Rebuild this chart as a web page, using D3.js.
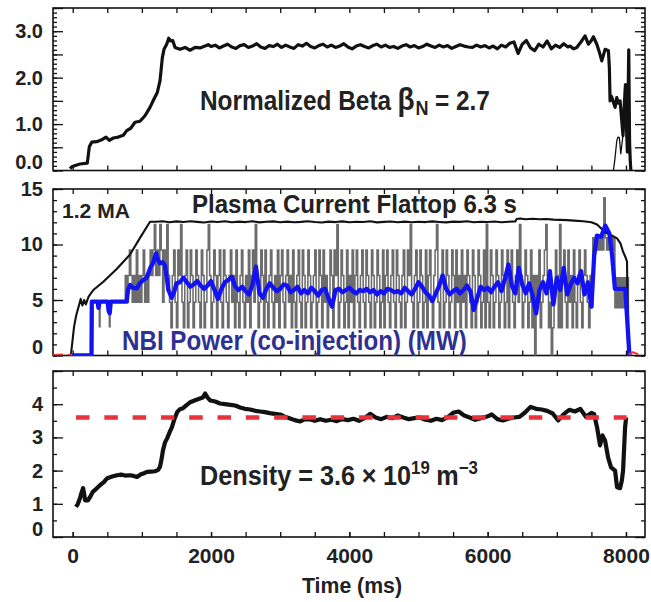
<!DOCTYPE html>
<html>
<head>
<meta charset="utf-8">
<script src="https://cdn.jsdelivr.net/npm/d3@7"></script>
<style>
body { margin: 0; background: #fff; }
text { font-family: "Liberation Sans", Arial, Helvetica, sans-serif; font-weight: bold; }
</style>
</head>
<body>
<div id="chart"></div>
<script>
// ---- tick labels ----
var timeTicks = [0, 2000, 4000, 6000, 8000];
var betaTicks = [0, 1, 2, 3];
var powerTicks = [0, 5, 10, 15];
var densityTicks = [0, 1, 2, 3, 4];

// ---- normalized beta (thick trace) [t ms, value] ----
var betaRise = [[-39,0.04],[-14,0.08],[58,0.12],[106,0.14],[211,0.16],[240,0.51],[275,0.61],[347,0.62],
  [419,0.66],[481,0.72],[529,0.65],[587,0.7],[659,0.72],[732,0.76],[781,0.86],[839,0.91],[901,1.04],
  [973,1.06],[1045,1.18],[1118,1.36],[1175,1.54],[1223,1.68],[1262,1.93],[1296,2.43],[1320,2.61],
  [1359,2.72],[1388,2.85],[1417,2.79],[1446,2.8],[1480,2.65],[1552,2.61],[1624,2.65],[1697,2.59],
  [1769,2.65],[1841,2.64],[1913,2.68],[1960,2.71]];
// flattop, one value every 60 ms from 2000 ms
var betaFlatStart = 2000, betaFlatStep = 60;
var betaFlat = [2.67,2.70,2.64,2.68,2.72,2.66,2.63,2.69,2.71,2.65,
  2.68,2.73,2.66,2.63,2.69,2.67,2.72,2.65,2.70,2.66,
  2.63,2.71,2.68,2.74,2.67,2.64,2.69,2.72,2.66,2.70,
  2.65,2.68,2.73,2.66,2.62,2.68,2.71,2.67,2.64,2.69,
  2.72,2.66,2.70,2.65,2.67,2.63,2.68,2.71,2.66,2.69,
  2.64,2.67,2.72,2.68,2.65,2.70,2.66,2.69,2.63,2.67,
  2.71,2.68,2.66,2.65,2.70,2.66,2.69,2.64,2.68,2.62,
  2.70,2.66,2.74,2.77,2.52,2.72,2.80,2.64,2.58,2.72,
  2.66,2.79,2.62,2.70,2.65,2.73,2.66];
var betaTail = [[7191,2.68],[7240,2.62],[7288,2.65],[7340,2.75],[7408,2.9],[7456,2.72],[7500,2.8],
  [7529,2.88],[7578,2.72],[7615,2.55],[7650,2.36],[7698,2.61],[7746,2.58],[7760,2.2],[7770,1.5],
  [7790,1.6],[7818,1.47],[7842,1.36],[7867,1.57],[7890,1.45],[7915,1.5],[7939,1.07],[7957,0.75],
  [7975,1.4],[7992,1.85],[8008,0.9],[8020,0.4],[8040,2.6],[8052,0.6],[8062,0.2],[8075,-0.1]];
var betaThin = [[7810,-0.1],[7840,0.25],[7867,0.64],[7885,0.72],[7904,0.71],[7925,0.36],[7953,0.71],[7972,1.07]];

// ---- plasma current (x10 MA scale) ----
var currentRamp = [[-25,0.1],[0,1.5],[20,2.6],[50,3.6],[90,4.5],[115,5.1],[140,4.5],[165,5.0],[190,4.6],
  [230,5.3],[298,5.9],[443,6.65],[636,7.8],[829,9.1],[973,10.6],[1118,12.05]];
var currentFlatStart = 1200, currentFlatStep = 100;
var currentFlat = [12.05,12.1,12.0,12.08,12.02,12.1,12.04,11.98,12.07,12.03,
  12.1,12.0,12.06,12.02,12.09,11.99,12.05,12.08,12.01,12.06,
  12.0,12.04,12.1,12.03,11.98,12.06,12.02,12.08,12.0,12.05,
  12.03,12.09,11.99,12.04,12.07,12.01,12.06,12.0,12.05,12.02,
  12.08,12.03,11.99,12.06,12.04,12.1,12.01,12.05,12.02,12.07,
  12.0,12.05,12.08];
var currentTail = [[6420,12.3],[6470,12.35],[6550,12.28],[6650,12.32],[6750,12.27],[6850,12.3],[6950,12.24],
  [7050,12.22],[7150,12.2],[7250,12.15],[7380,12.1],[7500,12.0],[7582,11.8],[7650,11.4],[7726,11.0],
  [7800,10.8],[7871,10.55],[7920,10.1],[7958,9.35],[7990,8.9],[8015,8.45],[8025,3],[8032,0.1],[8045,0]];

// ---- NBI power, raw (grey, stepped, one value every 20 ms from 760 ms) ----
var nbiRawStart = [[-30,0],[272,0],[276,4.8],[385,2.6],[395,4.8],[530,2.6],[540,4.8]];
var nbiRawStep0 = 760, nbiRawStep = 20;
var nbiRaw = [
  7.2,4.8,7.2,9.5,7.2,4.8,7.2,4.8,9.5,4.8,7.2,4.8,7.2,9.5,4.8,7.2,4.8,7.2,9.5,7.2,
  9.5,11.8,7.2,9.5,7.2,11.8,9.5,4.8,9.5,7.2,11.8,7.2,
  4.8,2.5,7.2,9.5,4.8,2.5,9.5,7.2,11.8,4.8,2.5,7.2,9.5,2.5,4.8,9.5,7.2,2.5,4.8,9.5,7.2,4.8,2.5,9.5,7.2,2.5,4.8,9.5,11.8,7.2,
  2.5,4.8,9.5,7.2,2.5,7.2,9.5,4.8,2.5,9.5,7.2,4.8,2.5,7.2,9.5,4.8,7.2,2.5,9.5,4.8,2.5,7.2,9.5,4.8,2.5,7.2,4.8,9.5,2.5,7.2,
  9.5,4.8,11.8,7.2,2.5,4.8,9.5,7.2,2.5,9.5,4.8,2.5,7.2,9.5,4.8,2.5,7.2,4.8,9.5,2.5,7.2,9.5,4.8,2.5,7.2,9.5,4.8,7.2,2.5,9.5,
  4.8,2.5,7.2,9.5,4.8,2.5,9.5,7.2,2.5,4.8,9.5,7.2,2.5,4.8,7.2,9.5,2.5,4.8,9.5,7.2,2.5,9.5,4.8,7.2,2.5,4.8,9.5,7.2,2.5,9.5,
  7.2,11.8,2.5,4.8,9.5,7.2,2.5,4.8,9.5,2.5,7.2,4.8,9.5,2.5,7.2,9.5,4.8,2.5,7.2,9.5,4.8,2.5,9.5,7.2,4.8,2.5,9.5,7.2,2.5,4.8,
  9.5,7.2,2.5,4.8,9.5,2.5,7.2,9.5,4.8,2.5,7.2,9.5,4.8,2.5,9.5,7.2,4.8,2.5,7.2,9.5,2.5,4.8,9.5,7.2,11.8,4.8,2.5,7.2,9.5,2.5,
  4.8,9.5,7.2,2.5,4.8,9.5,2.5,7.2,9.5,4.8,2.5,7.2,9.5,11.8,4.8,2.5,7.2,9.5,2.5,4.8,9.5,7.2,2.5,4.8,9.5,7.2,2.5,9.5,4.8,7.2,
  2.5,9.5,4.8,7.2,2.5,9.5,7.2,4.8,2.5,9.5,7.2,2.5,4.8,9.5,7.2,2.5,4.8,9.5,2.5,11.8,4.8,2.5,9.5,7.2,2.5,4.8,9.5,7.2,2.5,4.8,
  9.5,7.2,2.5,4.8,9.5,2.5,7.2,9.5,4.8,2.5,7.2,9.5,4.8,11.8,7.2,2.5,4.8,9.5,7.2,2.5,4.8,9.5,2.5,7.2,0,7.2,4.8,9.5,2.5,4.8,
  7.2,9.5,11.8,7.2,2.5,4.8,0,2.5,4.8,9.5,7.2,2.5,11.8,2.5,7.2,9.5,4.8,2.5,9.5,4.8,7.2,2.5,9.5,4.8,2.5,7.2,9.5,4.8,2.5,7.2,
  9.5,7.2,4.8,2.5,7.2];
var nbiRawTail = [[7500,4.4],[7520,10.6],[7540,9.5],[7560,10.6],[7580,9.5],[7600,10.6],[7620,9.5],[7640,10.6],
  [7660,9.5],[7680,14.2],[7700,10.6],[7720,9.5],[7740,10.6],[7760,9.5],[7780,10.6],[7800,9.5],[7820,10.6],
  [7840,4.3],[7860,7.0],[7880,4.3],[7900,7.0],[7920,4.3],[7940,7.0],[7960,4.3],[7980,7.0],[8000,4.3],
  [8020,7.0],[8035,0],[8060,0]];

// ---- NBI power, smoothed (blue) ----
var nbiStart = [[-30,0],[272,0],[276,4.85],[360,4.85],[372,4.3],[390,4.85],[505,4.85],[520,4.0],[535,3.8],
  [550,4.85],[780,4.85],[800,5.9],[830,6.35],[870,6.1],[925,6.05],[970,6.5],[1021,6.8],[1070,7.0],
  [1118,7.85],[1160,8.3],[1205,9.2],[1235,8.6],[1262,8.3],[1300,8.4],[1335,8.1],[1360,7.0],[1383,5.9],
  [1432,5.2],[1470,5.8]];
var nbiMidStart = 1500, nbiMidStep = 50;
var nbiMid = [6.5,6.6,7.0,6.6,6.2,6.4,6.7,6.3,6.0,6.3,
  6.7,5.9,5.1,6.0,6.6,6.8,7.1,6.2,5.9,6.2,
  5.8,5.5,6.4,8.0,5.6,5.2,6.0,6.5,6.1,5.8,
  6.0,6.4,6.3,5.7,5.9,6.2,5.6,5.9,5.6,6.1,
  5.8,5.4,5.9,6.0,5.1,4.4,5.9,6.0,5.7,5.9,
  6.1,5.8,5.6,5.9,5.8,6.0,5.7,5.9,5.5,5.8,
  5.6,6.0,5.9,5.7,5.8,5.6,6.1,5.8,5.5,6.0,
  6.6,6.2,5.7,5.4,4.9,5.6,6.3,7.2,6.0,5.5,
  5.8,6.0,5.6,5.9,6.3,5.8,4.1,5.2,6.2,5.9,
  6.1,5.7,6.2,6.6,5.8,6.9,8.2,6.3,5.6,7.9,
  6.4,5.6,6.5,5.4,3.8,5.9,6.6,5.6,7.6,4.6,
  7.0,5.9,7.9,5.5,6.4,7.0,6.5,7.6,5.5,6.6,
  4.4];
var nbiTail = [[7540,9.0],[7580,10.8],[7640,10.7],[7700,11.7],[7760,11.0],[7800,9.0],[7840,6.0],
  [7990,6.0],[8030,2],[8050,0],[8070,0]];

// small red marks at zero level
var zeroMarks = [[[-285,0.05],[-140,0.1]], [[-70,0.05],[-10,0.1]], [[8040,0.1],[8100,0.3],[8180,0.1]]];

// ---- line-averaged density (1e19 m^-3) ----
var densityRise = [[48,0.91],[75,1.0],[105,1.17],[130,1.35],[150,1.47],[165,1.3],[180,1.1],[220,1.1],
  [250,1.2],[290,1.36],[340,1.45],[395,1.56],[450,1.65],[500,1.77],[570,1.82],[640,1.86],[700,1.88],
  [760,1.85],[830,1.86],[880,1.84],[930,1.81],[980,1.88],[1030,1.92],[1075,1.96],[1130,1.97],
  [1190,1.98],[1235,2.02],[1262,2.11],[1285,2.35],[1305,2.61],[1335,2.85],[1365,2.97],[1400,3.15],
  [1435,3.31],[1470,3.55],[1510,3.76],[1550,3.85],[1595,3.88],[1650,3.98],[1700,4.06],[1770,4.12],
  [1840,4.17],[1880,4.2],[1915,4.32],[1950,4.2],[1990,4.11],[2060,4.08],[2130,4.02],[2200,4.0],
  [2280,3.98],[2350,3.96],[2420,3.9],[2490,3.86],[2565,3.84],[2640,3.8],[2710,3.78],[2780,3.76],
  [2850,3.73],[2920,3.71],[3000,3.69],[3070,3.62],[3145,3.57],[3210,3.52],[3290,3.48],[3360,3.55],
  [3435,3.54],[3500,3.5]];
var densityFlatStart = 3580, densityFlatStep = 80;
var densityFlat = [3.55,3.5,3.53,3.49,3.55,3.52,3.56,3.5,3.58,3.71,
  3.6,3.55,3.62,3.58,3.66,3.6,3.55,3.58,3.6,3.53,
  3.5,3.56,3.52,3.6,3.74,3.78,3.66,3.6,3.53,3.58,
  3.62,3.69,3.55,3.51,3.56,3.6,3.62,3.75,3.92,3.86,
  3.84,3.8,3.72,3.51,3.7,3.83,3.78,3.86,3.62,3.74];
var densityTail = [[7540,3.7],[7582,3.3],[7625,2.76],[7660,3.06],[7698,2.9],[7741,2.4],[7784,2.1],
  [7842,2.0],[7871,1.5],[7915,1.47],[7940,1.7],[7958,2.0],[7987,3.3],[8002,3.6]];
var densityTarget = 3.6, densityTargetFrom = 48, densityTargetTo = 8010;

function grid(start, step, vals) {
  return vals.map(function(v, i) { return [start + i * step, v]; });
}

var beta = betaRise.concat(grid(betaFlatStart, betaFlatStep, betaFlat), betaTail);
var current = currentRamp.concat(grid(currentFlatStart, currentFlatStep, currentFlat), currentTail);
var nbiGrey = nbiRawStart.concat(grid(nbiRawStep0, nbiRawStep, nbiRaw), nbiRawTail);
var nbiBlue = nbiStart.concat(grid(nbiMidStart, nbiMidStep, nbiMid), nbiTail);
var density = densityRise.concat(grid(densityFlatStart, densityFlatStep, densityFlat), densityTail);

var svgWidth = 651, svgHeight = 602;
var left = 53, right = 645;

var svg = d3.select("#chart").append("svg")
  .attr("width", svgWidth)
  .attr("height", svgHeight);

var x = d3.scaleLinear().domain([-285, 8275]).range([left, right]);
var xMinor = d3.range(0, 8001, 500);

function makePanel(id, top, bottom, domain, major, minor, fmt, showX) {
  var y = d3.scaleLinear().domain(domain).range([bottom, top]);
  var g = svg.append("g");

  g.append("clipPath").attr("id", id)
    .append("rect")
    .attr("x", left).attr("y", top)
    .attr("width", right - left).attr("height", bottom - top);

  // left axis with labels, ticks pointing inward
  var la = g.append("g")
    .attr("transform", "translate(" + left + ",0)")
    .call(d3.axisLeft(y).tickValues(major).tickSize(-10).tickPadding(10).tickFormat(fmt));
  la.selectAll("text").attr("font-size", 20).attr("fill", "#222")
    .attr("font-family", null)
    .filter(function(d) { return d === 0; }).attr("dy", "-0.08em");
  g.append("g")
    .attr("transform", "translate(" + left + ",0)")
    .call(d3.axisLeft(y).tickValues(minor).tickSize(-4).tickFormat(""));
  g.append("g")
    .attr("transform", "translate(" + right + ",0)")
    .call(d3.axisRight(y).tickValues(major).tickSize(-10).tickFormat(""));
  g.append("g")
    .attr("transform", "translate(" + right + ",0)")
    .call(d3.axisRight(y).tickValues(minor).tickSize(-4).tickFormat(""));

  g.append("g")
    .attr("transform", "translate(0," + top + ")")
    .call(d3.axisTop(x).tickValues(xMinor).tickSize(-5).tickFormat(""));
  var ba = g.append("g")
    .attr("transform", "translate(0," + bottom + ")")
    .call(d3.axisBottom(x).tickValues(showX ? timeTicks : []).tickSize(-5).tickPadding(11).tickFormat(d3.format("d")));
  ba.selectAll("text").attr("font-size", 21).attr("fill", "#222");
  g.append("g")
    .attr("transform", "translate(0," + bottom + ")")
    .call(d3.axisBottom(x).tickValues(xMinor).tickSize(-5).tickFormat(""));

  g.selectAll(".domain").remove();
  g.selectAll(".tick line").attr("stroke", "#111").attr("stroke-width", 1.3);

  g.append("rect")
    .attr("x", left).attr("y", top)
    .attr("width", right - left).attr("height", bottom - top)
    .attr("fill", "none").attr("stroke", "#111").attr("stroke-width", 1.6);

  var plot = g.append("g").attr("clip-path", "url(#" + id + ")");
  return {g: g, plot: plot, y: y};
}

function trace(panel, data, color, width, curve) {
  var line = d3.line()
    .x(function(d) { return x(d[0]); })
    .y(function(d) { return panel.y(d[1]); })
    .curve(curve || d3.curveLinear);
  return panel.plot.append("path")
    .datum(data)
    .attr("d", line)
    .attr("fill", "none")
    .attr("stroke", color)
    .attr("stroke-width", width)
    .attr("stroke-linejoin", "round");
}

// annotation built from pieces laid side by side, then squeezed to width w
function note(g, px, py, w, color, parts) {
  var grp = g.append("g").attr("fill", color || "#222");
  var cx = 0;
  parts.forEach(function(p) {
    var t = grp.append("text")
      .attr("x", cx + (p.dx || 0))
      .attr("y", p.dy || 0)
      .attr("font-size", p.size)
      .text(p.s);
    if (p.serif) t.attr("font-family", "'Liberation Serif', serif").attr("font-weight", "normal");
    if (p.light) t.attr("font-weight", "normal");
    cx += (p.dx || 0) + t.node().getComputedTextLength();
  });
  grp.attr("transform", "translate(" + px + "," + py + ") scale(" + (w / cx) + ",1)");
  return grp;
}

// ---- panel 1: beta_N ----
var p1 = makePanel("clipBeta", 8, 170.5, [0, 3.5], d3.range(0, 3.51, 0.5), d3.range(0, 3.51, 0.1),
  function(d) { return Number.isInteger(d) ? d.toFixed(1) : ""; }, false);
trace(p1, beta, "#111", 3.2);
trace(p1, betaThin, "#111", 1.3);

note(p1.g, 200, 110, 290, null, [
  {s: "Normalized Beta", size: 27},
  {s: "\u03b2", size: 31, serif: true, dx: 7},
  {s: "N", size: 20, dy: 5, dx: 1},
  {s: "= 2.7", size: 27, dx: 7}]);

// ---- panel 2: current and NBI power ----
var p2 = makePanel("clipPower", 189, 355.5, [0, 15], powerTicks, d3.range(0, 15.1, 1),
  d3.format("d"), false);
trace(p2, nbiGrey, "#6c6c6c", 1.55, d3.curveStepAfter).attr("stroke-linejoin", "miter");
trace(p2, current, "#111", 2.1);
trace(p2, nbiBlue, "#1212f2", 4.3);
zeroMarks.forEach(function(m) { trace(p2, m, "#e8333a", 2); });

note(p2.g, 62, 218, 68, null, [{s: "1.2 MA", size: 21}]);
note(p2.g, 192, 213, 325, null, [{s: "Plasma Current Flattop 6.3 s", size: 26}]);
note(p2.g, 122, 350, 345, "#2e3192", [{s: "NBI Power (co-injection) (MW)", size: 27}]);

// ---- panel 3: density ----
var p3 = makePanel("clipDensity", 371, 537, [0, 5], [0, 1, 2, 3, 4, 5], d3.range(0, 5.01, 0.5),
  function(d) { return densityTicks.indexOf(d) >= 0 ? d : ""; }, true);
trace(p3, density, "#111", 4.2);
p3.plot.append("line")
  .attr("x1", x(densityTargetFrom)).attr("x2", x(densityTargetTo))
  .attr("y1", p3.y(densityTarget)).attr("y2", p3.y(densityTarget))
  .attr("stroke", "#e8333a").attr("stroke-width", 4.5)
  .attr("stroke-dasharray", "13.5 14.8");

note(p3.g, 200, 485, 278, null, [
  {s: "Density = 3.6", size: 27},
  {s: "\u00d7", size: 27, light: true, dx: 7},
  {s: "10", size: 27, dx: 7},
  {s: "19", size: 18, dy: -11},
  {s: "m", size: 27, dx: 7},
  {s: "\u22123", size: 18, dy: -11}]);

svg.append("text")
  .attr("x", 352).attr("y", 593)
  .attr("text-anchor", "middle")
  .attr("font-size", 22)
  .attr("fill", "#222")
  .attr("textLength", 100)
  .attr("lengthAdjust", "spacingAndGlyphs")
  .text("Time (ms)");
</script>
</body>
</html>
